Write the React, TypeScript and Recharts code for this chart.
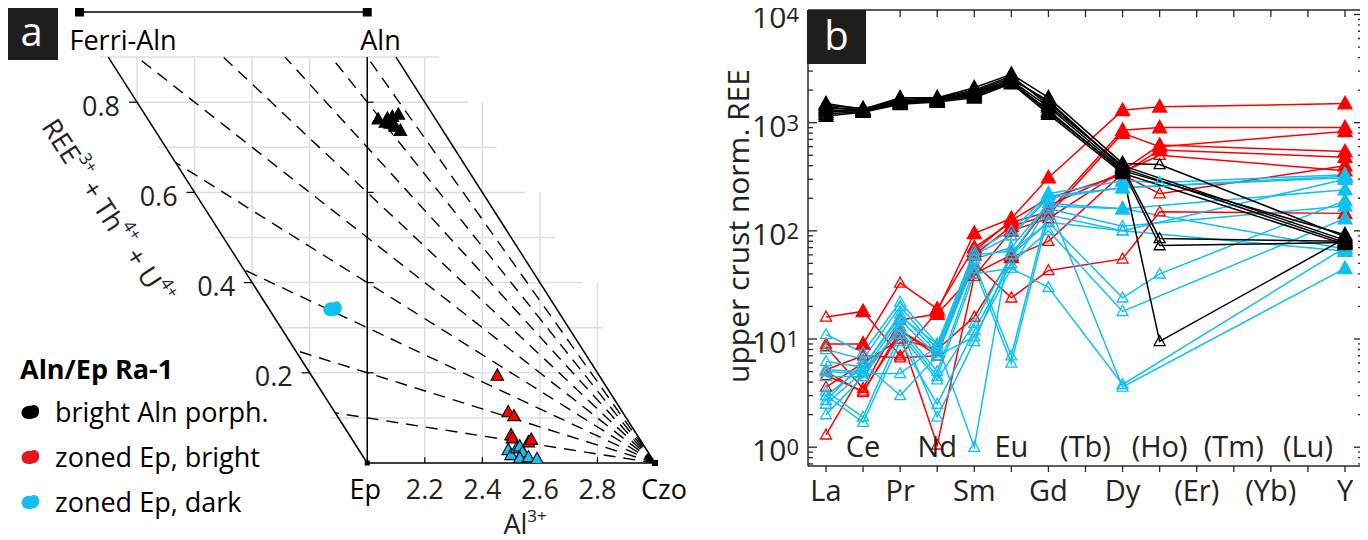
import React from 'react';
import {
  ScatterChart, Scatter, LineChart, Line, XAxis, YAxis, ReferenceLine, ReferenceDot,
} from 'recharts';

const FONT = '"Open Sans", "Noto Sans", sans-serif';
const RED = '#ff0000';
const CYAN = '#10c0f0';
const AX = '#262626';

// ---------- panel a: Al (apfu) vs REE3+ + Th4+ + U4+ ----------
const alnPorphAl = [2.038, 2.063, 2.07, 2.08, 2.087, 2.097, 2.108, 2.115];
const alnPorphRee = [0.762, 0.755, 0.764, 0.753, 0.768, 0.746, 0.773, 0.737];
const epBrightAl = [2.452, 2.49, 2.51, 2.5, 2.505, 2.56, 2.57];
const epBrightRee = [0.194, 0.113, 0.104, 0.062, 0.055, 0.046, 0.052];
const epDarkAl = [2.49, 2.5, 2.52, 2.53, 2.54, 2.53, 2.56, 2.59];
const epDarkRee = [0.029, 0.018, 0.033, 0.037, 0.024, 0.011, 0.013, 0.009];
const epDarkClusterAl = [1.878];
const epDarkClusterRee = [0.342];

const alTicks = [2.2, 2.4, 2.6, 2.8];
const reeTicks = [0.2, 0.4, 0.6, 0.8];
const gridAl = [1.2, 1.4, 1.6, 1.8, 2.2, 2.4, 2.6, 2.8];
const gridRee = [0.1, 0.2, 0.3, 0.4, 0.5, 0.6, 0.7, 0.8, 0.9];
// REE/(3-Al) ratios of the dashed lines fanning out of Czo
const fanRatios = [0.1, 0.2, 0.3, 0.4, 0.5, 0.6, 0.7, 0.8, 0.9];

// ---------- panel b: upper crust normalised REE ----------
const elements = ['La', 'Ce', 'Pr', 'Nd', 'Sm', 'Eu', 'Gd', 'Tb', 'Dy', 'Ho', 'Er', 'Tm', 'Yb', 'Lu', 'Y'];
const elementLabels = ['La', 'Ce', 'Pr', 'Nd', 'Sm', 'Eu', 'Gd', '(Tb)', 'Dy', '(Ho)', '(Er)', '(Tm)', '(Yb)', '(Lu)', 'Y'];
const measured = ['La', 'Ce', 'Pr', 'Nd', 'Sm', 'Eu', 'Gd', 'Dy', 'Ho', 'Y'];

const alnPorphREE = [
  [1500, 1330, 1700, 1700, 2100, 2800, 1700, 420, 410, 88],
  [1400, 1300, 1600, 1650, 1950, 2600, 1550, 390, 85, 80],
  [1300, 1280, 1550, 1600, 1850, 2450, 1400, 370, 73, 78],
  [1250, 1300, 1500, 1600, 1800, 2400, 1300, 350, 9.5, 85],
  [1200, 1270, 1520, 1580, 1750, 2350, 1250, 360, null, 92],
  [1150, 1250, 1480, 1550, 1700, 2300, 1200, 340, null, 75],
  [1350, 1320, 1650, 1680, 2000, 2700, 1450, 400, null, 82],
  [1450, 1350, 1580, 1620, 1900, 2500, 1600, 380, null, 78],
];
const epBrightREE = [
  [16, 18, 7, 18, 95, 130, 310, 1300, 1400, 1500],
  [9, 9, 33, 19, 70, 120, 150, 850, 900, 900],
  [5, 3.2, 12, 7, 60, 110, 140, 800, 600, 830],
  [4.6, 3.3, 11, 1.05, 38, 100, 130, 360, 620, 540],
  [3.6, 6, 10, 8, 16, 57, 80, 340, 560, 480],
  [1.3, 5, 12, 7.5, 50, 24, 43, 55, 150, 145],
  [5.2, 7, 6.7, 7, 65, 125, 200, 330, 220, 400],
  [8.5, 3.5, 15, 17, 40, 60, 170, 350, 500, 360],
];
const epDarkREE = [
  [11, 7.5, 22, 9, 65, 100, 220, 290, 280, 330],
  [8, 6.5, 20, 8, 60, 90, 200, 250, null, 320],
  [6.2, 5.5, 17, 7.5, 55, 70, 180, 160, null, 240],
  [5.2, 5, 15, 7, 50, 7, 160, 110, null, 170],
  [4.5, 4.5, 13, 5, 45, 6, 140, 100, null, 300],
  [3.3, 1.9, 11, 4.2, 14, 60, 120, 24, 40, 190],
  [3, 1.7, 9.5, 2.5, 12, 50, 100, 18, null, 130],
  [2.7, 6, 3, 7, 10.5, 45, 30, 3.8, null, 70],
  [2, 4.5, 13, 1.9, 9.5, 60, 180, 3.6, null, 45],
  [5, 4.8, 4.8, 8.5, 60, 65, 120, 100, null, 65],
  [3, 5.5, 16, 9, 1.0, 90, 210, 250, null, 310],
  [2.5, 5, 12, 4.5, 40, 45, 170, 160, null, 68],
];

const logTicks = [0.7, 0.8, 0.9, 1, 2, 3, 4, 5, 6, 7, 8, 9, 10, 20, 30, 40, 50, 60, 70, 80, 90,
  100, 200, 300, 400, 500, 600, 700, 800, 900, 1000, 2000, 3000, 4000, 5000, 6000, 7000, 8000, 9000, 10000];

// marker styling: elements drawn with open triangles
const allBut = (...keep: string[]) => measured.filter((m) => !keep.includes(m));
const alnOpen = alnPorphREE.map(() => ['Ho']);
const brightOpen = [
  ['La', 'Pr'],
  ['La', 'Pr', 'Gd'],
  ['La', 'Ce', 'Pr', 'Nd', 'Gd'],
  ['La', 'Ce', 'Pr', 'Nd', 'Sm', 'Gd', 'Dy'],
  ['La', 'Ce', 'Pr', 'Nd', 'Sm', 'Gd', 'Dy'],
  ['La', 'Ce', 'Pr', 'Nd', 'Sm', 'Eu', 'Gd', 'Dy', 'Ho'],
  ['La', 'Ce', 'Pr', 'Nd', 'Gd', 'Dy', 'Ho'],
  ['La', 'Ce', 'Pr', 'Sm', 'Gd', 'Ho'],
];
const darkOpen = epDarkREE.map((_, i) => (i === 0 ? allBut('Gd', 'Dy', 'Y') : i < 3 ? allBut('Dy', 'Y') : allBut('Y')));

type Series = { key: string; color: string; values: (number | null)[]; open: string[] };
const series: Series[] = [
  ...epBrightREE.map((v, i) => ({ key: `bright${i}`, color: RED, values: v, open: brightOpen[i] })),
  ...epDarkREE.map((v, i) => ({ key: `dark${i}`, color: CYAN, values: v, open: darkOpen[i] })),
  ...alnPorphREE.map((v, i) => ({ key: `aln${i}`, color: '#000', values: v, open: alnOpen[i] })),
];

const rows = elements.map((el) => {
  const row: Record<string, string | number | null> = { el };
  const j = measured.indexOf(el);
  series.forEach((s) => { row[s.key] = j >= 0 ? s.values[j] : null; });
  return row;
});

const tri = (cx: number, cy: number, w = 6) =>
  `M${cx},${cy - w * 1.05} L${cx + w},${cy + w * 0.75} L${cx - w},${cy + w * 0.75} Z`;
const BLOB = 'M-8,3 C-10,-2 -5,-7 1,-6 C5,-9 10,-5 9,0 C9,5 4,7 -1,7 C-4,7 -7,6 -8,3 Z';

const isPow10 = (v: number) => Math.abs(Math.log10(v) - Math.round(Math.log10(v))) < 1e-9;

const LeftTick = (p: any) => {
  const v = p.payload.value;
  const major = isPow10(v);
  return (
    <g>
      <line x1={p.x} x2={p.x + (major ? 9 : 5)} y1={p.y} y2={p.y} stroke={AX} strokeWidth={1.3} />
      {major && (
        <text x={p.x - 9} y={p.y + 14} textAnchor="end" fill="#222" fontFamily={FONT} fontSize={30}>
          10<tspan fontSize={22} dy={-6}>{Math.round(Math.log10(v))}</tspan>
        </text>
      )}
    </g>
  );
};
const RightTick = (p: any) => {
  const major = isPow10(p.payload.value);
  return <line x1={p.x} x2={p.x - (major ? 9 : 5)} y1={p.y} y2={p.y} stroke={AX} strokeWidth={1.3} />;
};
const BottomTick = (p: any) => {
  const i = p.index;
  const inner = i % 2 === 1;
  return (
    <g>
      <line x1={p.x} x2={p.x} y1={p.y} y2={p.y + 6} stroke={AX} strokeWidth={1.3} />
      <text x={p.x} y={inner ? p.y - 21 : p.y + 23} textAnchor="middle" dominantBaseline="central"
        fill="#222" fontFamily={FONT} fontSize={29}>{elementLabels[i]}</text>
    </g>
  );
};
const TopTick = (p: any) => (
  <line x1={p.x} x2={p.x} y1={p.y} y2={p.y + 7} stroke={AX} strokeWidth={1.3} />
);

const PanelB = () => (
  <LineChart width={668} height={540} data={rows} margin={{ top: 9, right: 4, bottom: 0, left: 0 }}>
    <XAxis dataKey="el" height={74} padding={{ left: 18, right: 18 }} interval={0} tickSize={0} tickMargin={0}
      tickLine={false} axisLine={{ stroke: AX, strokeWidth: 1.5 }} tick={(p: any) => <BottomTick {...p} />} />
    <XAxis xAxisId="top" orientation="top" dataKey="el" height={1} padding={{ left: 18, right: 18 }} interval={0}
      tickSize={0} tickMargin={0} tickLine={false} axisLine={{ stroke: AX, strokeWidth: 1.5 }}
      tick={(p: any) => <TopTick {...p} />} />
    <YAxis scale="log" domain={[0.67, 11000]} allowDataOverflow ticks={logTicks} interval={0} width={108}
      tickSize={0} tickMargin={0} tickLine={false} axisLine={{ stroke: AX, strokeWidth: 1.5 }}
      tick={(p: any) => <LeftTick {...p} />} />
    <YAxis yAxisId="r" orientation="right" scale="log" domain={[0.67, 11000]} allowDataOverflow ticks={logTicks}
      interval={0} width={1} tickSize={0} tickMargin={0} tickLine={false} axisLine={{ stroke: AX, strokeWidth: 1.5 }}
      tick={(p: any) => <RightTick {...p} />} />
    {series.map((s) => (
      <Line key={s.key} dataKey={s.key} stroke={s.color} strokeWidth={1.5} connectNulls isAnimationActive={false}
        activeDot={false}
        dot={(p: any) => {
          if (p.value == null || p.cy == null) return <g key={`${s.key}-${p.index}`} />;
          const open = s.open.includes(p.payload.el);
          return (
            <path key={`${s.key}-${p.index}`} d={tri(p.cx, p.cy, open ? 5.5 : 7)} fill={open ? 'none' : s.color}
              stroke={s.color} strokeWidth={1.3} />
          );
        }} />
    ))}
  </LineChart>
);

// ---------- panel a drawing helpers ----------
const pts = (al: number[], ree: number[]) => al.map((a, i) => ({ al: a, ree: ree[i] }));
const triShape = (fill: string) => (p: any) => (
  <path d={tri(p.cx, p.cy, 6.3)} fill={fill} stroke="#000" strokeWidth={1.1} />
);
const label = (content: React.ReactNode, dx: number, dy: number, anchor = 'middle', size = 27, color = '#222') =>
  (p: any) => (
    <text x={p.cx + dx} y={p.cy + dy} textAnchor={anchor} dominantBaseline="central" fill={color}
      fontFamily={FONT} fontSize={size}>{content}</text>
  );
const square = (s: number) => (p: any) => <rect x={p.cx - s / 2} y={p.cy - s / 2} width={s} height={s} fill="#000" />;

const seg = (x1: number, y1: number, x2: number, y2: number, key: string, stroke: string, w: number, dash?: string) => (
  <ReferenceLine key={key} segment={[{ x: x1, y: y1 }, { x: x2, y: y2 }]} stroke={stroke} strokeWidth={w}
    strokeDasharray={dash} ifOverflow="visible" />
);

const fanEnd = (k: number) => {
  const yl = k / (1 - k);
  return yl <= 0.9 ? { x: 2 - yl, y: yl } : { x: 3 - 0.9 / k, y: 0.9 };
};

const sup = (t: string, dy = -11) => <tspan fontSize={17} dy={dy}>{t}</tspan>;
const down = (t: string) => <tspan dy={11}>{t}</tspan>;

const PanelA = () => (
  <ScatterChart width={700} height={540} margin={{ top: 12, right: 45, bottom: 77, left: 79.5 }}>
    <XAxis type="number" dataKey="al" domain={[1, 3]} hide allowDataOverflow />
    <YAxis type="number" dataKey="ree" domain={[0, 1]} hide allowDataOverflow />
    {gridAl.map((a) => seg(a, Math.max(0, 2 - a - 0.02), a, Math.min(0.9, 3.2 - a), `gv${a}`, '#dedede', 1.5))}
    {gridRee.map((v) => seg(2 - v - 0.028, v, Math.min(3.15 - v, 2.82), v, `gh${v}`, '#dedede', 1.5))}
    {fanRatios.map((k) => {
      const e = fanEnd(k);
      return seg(3, 0, e.x, e.y, `fan${k}`, '#000', 1.4, '12 8');
    })}
    {reeTicks.map((v) => seg(2 - v - 0.028, v, 2 - v, v, `tl${v}`, '#000', 1.2))}
    {reeTicks.map((v) => seg(2, v, 2.022, v, `tv${v}`, '#000', 1.2))}
    {alTicks.map((a) => seg(a, 0, a, 0.013, `tb${a}`, '#000', 1.2))}
    {seg(2, 0, 1.1, 0.9, 'left', '#000', 1.5)}
    {seg(2, 0, 2, 0.9, 'mid', '#000', 1.5)}
    {seg(3, 0, 2.1, 0.9, 'right', '#000', 1.5)}
    {seg(2, 0, 3, 0, 'bottom', '#000', 1.5)}
    {seg(1, 1, 2, 1, 'top', '#000', 1.5)}
    <ReferenceDot x={1} y={1} r={0} ifOverflow="visible" shape={square(9)} />
    <ReferenceDot x={2} y={1} r={0} ifOverflow="visible" shape={square(9)} />
    <ReferenceDot x={2} y={0} r={0} ifOverflow="visible" shape={square(5)} />
    <ReferenceDot x={3} y={0} r={0} ifOverflow="visible" shape={square(6)} />
    <ReferenceDot x={1} y={1} r={0} ifOverflow="visible" shape={label('Ferri-Aln', -10, 27, 'start', 27, '#000')} />
    <ReferenceDot x={2} y={1} r={0} ifOverflow="visible" shape={label('Aln', -7, 27, 'start', 27, '#000')} />
    {reeTicks.map((v) => (
      <ReferenceDot key={`rl${v}`} x={2 - v} y={v} r={0} ifOverflow="visible" shape={label(String(v), -17, 3, 'end')} />
    ))}
    {alTicks.map((a) => (
      <ReferenceDot key={`al${a}`} x={a} y={0} r={0} ifOverflow="visible" shape={label(a.toFixed(1), 0, 25)} />
    ))}
    <ReferenceDot x={2} y={0} r={0} ifOverflow="visible" shape={label('Ep', -2, 25, 'middle', 27, '#000')} />
    <ReferenceDot x={3} y={0} r={0} ifOverflow="visible" shape={label('Czo', 9, 25, 'middle', 27, '#000')} />
    <ReferenceDot x={2.5} y={0} r={0} ifOverflow="visible"
      shape={label(<>Al{sup('3+', -8)}</>, 14, 60, 'middle', 27, '#222')} />
    <ReferenceDot x={1.096} y={0.554} r={0} ifOverflow="visible"
      shape={(p: any) => (
        <text x={p.cx + 1} y={p.cy - 2} textAnchor="middle" dominantBaseline="central" fontFamily={FONT} fontSize={27}
          fill="#222" transform={`rotate(57 ${p.cx + 1} ${p.cy - 2})`}>
          REE{sup('3+')}{down(' + Th')}{sup('4+')}{down(' + U')}{sup('4+')}
        </text>
      )} />
    <Scatter data={pts(epDarkClusterAl, epDarkClusterRee)} isAnimationActive={false}
      shape={(p: any) => <path d={BLOB} transform={`translate(${p.cx},${p.cy}) scale(1.05)`} fill={CYAN} />} />
    <Scatter data={pts(alnPorphAl, alnPorphRee)} isAnimationActive={false} shape={triShape('#000')} />
    <Scatter data={pts(epBrightAl, epBrightRee)} isAnimationActive={false} shape={triShape(RED)} />
    <Scatter data={pts(epDarkAl, epDarkRee)} isAnimationActive={false} shape={triShape(CYAN)} />
  </ScatterChart>
);

const legendItems = [
  { text: 'bright Aln porph.', color: '#000' },
  { text: 'zoned Ep, bright', color: '#e8141c' },
  { text: 'zoned Ep, dark', color: '#13bff2' },
];

const tagStyle: React.CSSProperties = {
  position: 'absolute', background: '#1e1e1e', color: '#fff', display: 'flex', alignItems: 'center',
  justifyContent: 'center', fontFamily: FONT, fontSize: 40, lineHeight: 1,
};

export default function App() {
  return (
    <div style={{ position: 'relative', width: 1368, height: 540, margin: '-8px 0 0 -8px', background: '#fff', fontFamily: FONT }}>
      <div style={{ position: 'absolute', left: 0, top: 0 }}><PanelA /></div>
      <div style={{ position: 'absolute', left: 700, top: 0 }}><PanelB /></div>
      <div style={{ ...tagStyle, left: 5, top: 7, width: 53, height: 53, paddingBottom: 6, boxSizing: 'border-box' }}>a</div>
      <div style={{ ...tagStyle, left: 807, top: 10, width: 59, height: 54, paddingBottom: 4, boxSizing: 'border-box' }}>b</div>
      <div style={{ position: 'absolute', left: 20, top: 350, fontSize: 27, fontWeight: 700, color: '#000' }}>Aln/Ep Ra-1</div>
      {legendItems.map((it, i) => (
        <div key={it.text} style={{ position: 'absolute', left: 18, top: 394 + i * 45, display: 'flex', alignItems: 'center', fontSize: 27, color: '#000' }}>
          <svg width={24} height={20} viewBox="-11 -10 22 20"><path d={BLOB} fill={it.color} /></svg>
          <span style={{ marginLeft: 13, lineHeight: '36px' }}>{it.text}</span>
        </div>
      ))}
      <div style={{ position: 'absolute', left: 737, top: 226, transform: 'translate(-50%, -50%) rotate(-90deg)', whiteSpace: 'nowrap', fontSize: 30, color: '#222' }}>
        upper crust norm. REE
      </div>
    </div>
  );
}
